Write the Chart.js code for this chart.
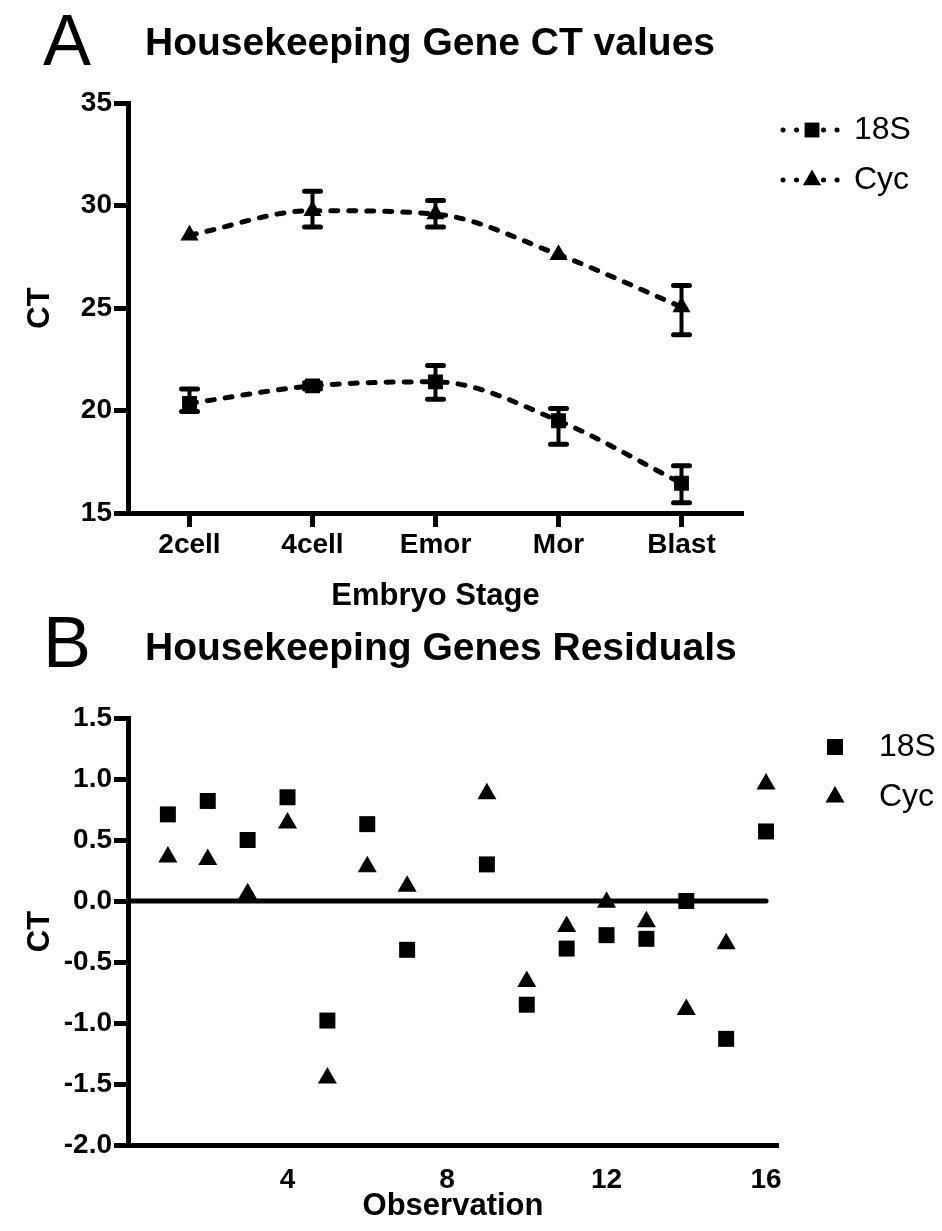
<!DOCTYPE html>
<html>
<head>
<meta charset="utf-8">
<script src="https://cdn.jsdelivr.net/npm/chart.js@4.4.1/dist/chart.umd.min.js"></script>
<style>
body{margin:0;background:#fff;}
canvas{display:block;}
</style>
</head>
<body>
<canvas id="chartA" width="942" height="615"></canvas>
<canvas id="chartB" width="942" height="616"></canvas>
<script>
// panel A - CT per embryo stage (mean, error bar low/high)
var stages = ['2cell', '4cell', 'Emor', 'Mor', 'Blast'];
var ct18S     = [20.35, 21.2, 21.4, 19.5, 16.45];
var ct18SLow  = [19.95, 21.05, 20.55, 18.35, 15.5];
var ct18SHigh = [21.05, 21.35, 22.2, 20.1, 17.3];
var ctCyc     = [28.55, 29.75, 29.58, 27.6, 25.05];
var ctCycLow  = [28.55, 28.95, 28.95, 27.6, 23.7];
var ctCycHigh = [28.55, 30.7, 30.25, 27.6, 26.1];

// panel B - residuals per observation
var observations = [1, 2, 3, 4, 5, 6, 7, 9, 10, 11, 12, 13, 14, 15, 16];
var res18S = [0.71, 0.82, 0.50, 0.85, -0.98, 0.63, -0.40, 0.30, -0.85, -0.39, -0.28, -0.31, 0.0, -1.13, 0.57];
var resCyc = [0.36, 0.34, 0.06, 0.64, -1.45, 0.28, 0.12, 0.88, -0.66, -0.21, -0.01, -0.17, -0.89, -0.35, 0.96];

var FONT = '"Liberation Sans", Arial, Helvetica, sans-serif';
Chart.defaults.font.family = FONT;
Chart.defaults.color = '#000';

var tickFont = {family: FONT, size: 28, weight: 'bold'};
var titleFont = {family: FONT, size: 31, weight: 'bold'};

// vertical error bars from errLow / errHigh on a dataset
var errorBars = {
    id: 'errorBars',
    beforeDatasetsDraw: function(chart) {
        var ctx = chart.ctx;
        var yScale = chart.scales.y;
        chart.data.datasets.forEach(function(ds, i) {
            if (!ds.errLow) return;
            var meta = chart.getDatasetMeta(i);
            ctx.save();
            ctx.strokeStyle = '#000';
            meta.data.forEach(function(pt, j) {
                var yl = yScale.getPixelForValue(ds.errLow[j]);
                var yh = yScale.getPixelForValue(ds.errHigh[j]);
                if (Math.abs(yl - yh) < 1) return;
                ctx.lineWidth = 4;
                ctx.lineCap = 'butt';
                ctx.beginPath();
                ctx.moveTo(pt.x, yl);
                ctx.lineTo(pt.x, yh);
                ctx.stroke();
                ctx.lineWidth = 5;
                ctx.lineCap = 'round';
                ctx.beginPath();
                ctx.moveTo(pt.x - 8, yl); ctx.lineTo(pt.x + 8, yl);
                ctx.moveTo(pt.x - 8, yh); ctx.lineTo(pt.x + 8, yh);
                ctx.stroke();
            });
            ctx.restore();
        });
    }
};

// legend to the right of the plot
var sideLegend = {
    id: 'sideLegend',
    afterDraw: function(chart, args, opts) {
        var ctx = chart.ctx;
        var row = 0;
        chart.data.datasets.forEach(function(ds) {
            if (ds.inLegend === false) return;
            var y = opts.y + row * opts.rowGap;
            ctx.save();
            if (opts.dotted) {
                ctx.strokeStyle = '#000';
                ctx.lineWidth = 5;
                ctx.lineCap = 'round';
                ctx.setLineDash([0.1, 13.4]);
                ctx.beginPath();
                ctx.moveTo(opts.lineFrom, y);
                ctx.lineTo(opts.lineTo, y);
                ctx.stroke();
                ctx.setLineDash([]);
            }
            ctx.fillStyle = '#000';
            Chart.helpers.drawPoint(ctx, {pointStyle: ds.pointStyle, radius: ds.pointRadius, borderWidth: 0, rotation: 0}, opts.markerX, y);
            ctx.font = opts.fontSize + 'px ' + FONT;
            ctx.textBaseline = 'middle';
            ctx.textAlign = 'left';
            ctx.fillText(ds.label, opts.textX, y);
            ctx.restore();
            row++;
        });
    }
};

// panel letter + heading
var heading = {
    id: 'heading',
    afterDraw: function(chart, args, opts) {
        var ctx = chart.ctx;
        ctx.save();
        ctx.fillStyle = '#000';
        ctx.textBaseline = 'alphabetic';
        ctx.textAlign = 'left';
        ctx.font = '72px ' + FONT;
        ctx.fillText(opts.letter, opts.letterX, opts.letterY);
        ctx.font = 'bold 39px ' + FONT;
        ctx.fillText(opts.text, opts.textX, opts.textY);
        ctx.restore();
    }
};

var chartA = new Chart(document.getElementById('chartA'), {
    type: 'line',
    data: {
        labels: stages,
        datasets: [{
            label: '18S',
            data: ct18S,
            errLow: ct18SLow,
            errHigh: ct18SHigh,
            pointStyle: 'rect',
            pointRadius: 10.5
        }, {
            label: 'Cyc',
            data: ctCyc,
            errLow: ctCycLow,
            errHigh: ctCycHigh,
            pointStyle: 'triangle',
            pointRadius: 10.5
        }]
    },
    options: {
        responsive: false,
        animation: false,
        devicePixelRatio: 1,
        elements: {
            line: {borderColor: '#000', borderWidth: 5, borderDash: [7, 11], borderCapStyle: 'round', fill: false,
                cubicInterpolationMode: 'monotone'},
            point: {backgroundColor: '#000', borderColor: '#000', borderWidth: 0, hoverRadius: 10}
        },
        layout: {padding: {left: 18, top: 103, right: 199, bottom: 0}},
        plugins: {
            legend: {display: false},
            tooltip: {enabled: false},
            heading: {letter: 'A', letterX: 43, letterY: 65, text: 'Housekeeping Gene CT values', textX: 145, textY: 55},
            sideLegend: {y: 130, rowGap: 50, dotted: true, lineFrom: 783, lineTo: 840, markerX: 812, textX: 854, fontSize: 32}
        },
        scales: {
            x: {
                type: 'category',
                offset: true,
                grid: {display: true, drawOnChartArea: false, offset: false, tickLength: 14, tickWidth: 5, tickColor: '#000'},
                border: {display: true, color: '#000', width: 5},
                ticks: {font: tickFont, color: '#000', padding: 1, maxRotation: 0},
                title: {display: true, text: 'Embryo Stage', font: titleFont, color: '#000', padding: {top: 0, bottom: 0}},
                afterFit: function(s) { s.height = 102; }
            },
            y: {
                min: 15,
                max: 35,
                grid: {display: true, drawOnChartArea: false, tickLength: 14, tickWidth: 5, tickColor: '#000'},
                border: {display: true, color: '#000', width: 5},
                ticks: {stepSize: 5, font: tickFont, color: '#000', padding: 2},
                title: {display: true, text: 'CT', font: titleFont, color: '#000', padding: {top: 4, bottom: 0}},
                afterFit: function(s) { s.width = 110; }
            }
        }
    },
    plugins: [errorBars, sideLegend, heading]
});

var chartB = new Chart(document.getElementById('chartB'), {
    type: 'scatter',
    data: {
        datasets: [{
            label: '18S',
            data: observations.map(function(o, i) { return {x: o, y: res18S[i]}; }),
            pointStyle: 'rect',
            pointRadius: 11.3,
            order: 1
        }, {
            label: 'Cyc',
            data: observations.map(function(o, i) { return {x: o, y: resCyc[i]}; }),
            pointStyle: 'triangle',
            pointRadius: 11,
            order: 1
        }, {
            label: 'zero',
            type: 'line',
            inLegend: false,
            data: [{x: 0, y: 0}, {x: 16, y: 0}],
            showLine: true,
            pointRadius: 0,
            borderColor: '#000',
            borderWidth: 5,
            borderCapStyle: 'round',
            order: 5
        }]
    },
    options: {
        responsive: false,
        animation: false,
        devicePixelRatio: 1,
        elements: {
            point: {backgroundColor: '#000', borderColor: '#000', borderWidth: 0}
        },
        layout: {padding: {left: 18, top: 103, right: 164, bottom: 0}},
        plugins: {
            legend: {display: false},
            tooltip: {enabled: false},
            heading: {letter: 'B', letterX: 43, letterY: 52, text: 'Housekeeping Genes Residuals', textX: 145, textY: 45},
            sideLegend: {y: 132, rowGap: 50, dotted: false, markerX: 835, textX: 879, fontSize: 32}
        },
        scales: {
            x: {
                type: 'linear',
                min: 0,
                max: 16.3,
                grid: {display: false, drawTicks: false},
                border: {display: true, color: '#000', width: 5},
                ticks: {stepSize: 4, includeBounds: false, font: tickFont, color: '#000', padding: 18},
                afterBuildTicks: function(s) { s.ticks = s.ticks.filter(function(t) { return t.value !== 0; }); },
                title: {display: true, text: 'Observation', font: titleFont, color: '#000', padding: {top: 0, bottom: 6}},
                afterFit: function(s) { s.height = 86; }
            },
            y: {
                min: -2,
                max: 1.5,
                grid: {display: true, drawOnChartArea: false, tickLength: 14, tickWidth: 5, tickColor: '#000'},
                border: {display: true, color: '#000', width: 5},
                ticks: {stepSize: 0.5, font: tickFont, color: '#000', padding: 2,
                    callback: function(v) { return v.toFixed(1); }},
                title: {display: true, text: 'CT', font: titleFont, color: '#000', padding: {top: 4, bottom: 0}},
                afterFit: function(s) { s.width = 110; }
            }
        }
    },
    plugins: [sideLegend, heading]
});
</script>
</body>
</html>
